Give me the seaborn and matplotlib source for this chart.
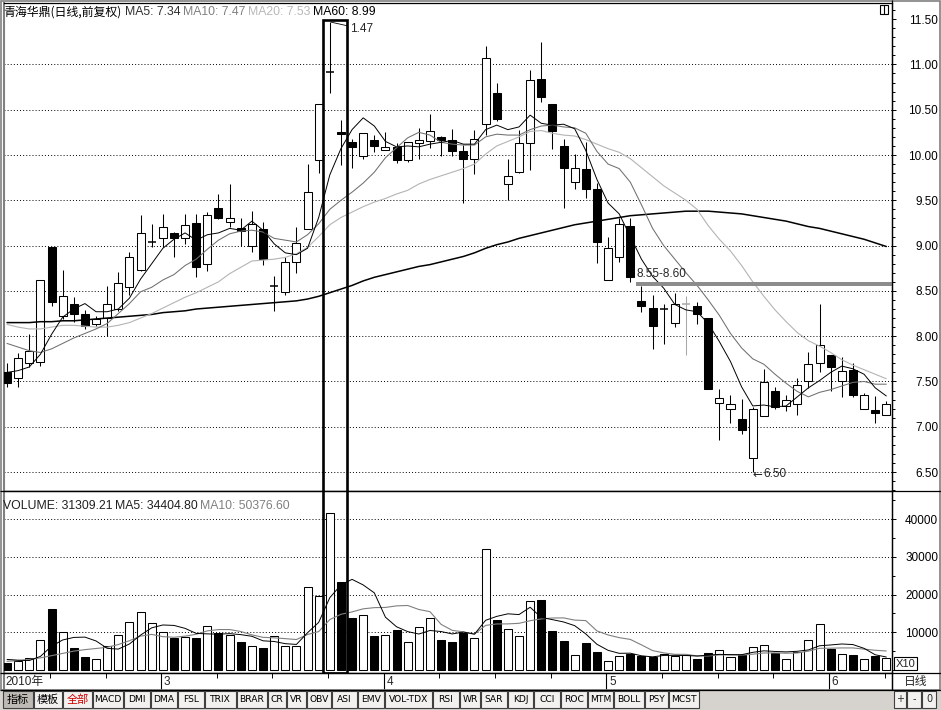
"""
plot.py
-------
Daily candlestick + volume panel (TDX style) for 青海华鼎, Feb-Jun 2010.
"""

import numpy as np
import matplotlib
matplotlib.use("Agg")
import matplotlib.pyplot as plt
from matplotlib.patches import Rectangle
from matplotlib.ticker import MultipleLocator, FormatStrFormatter
import seaborn as sns

# ── Price data (80 sessions) ─────────────────────────────────────────────────
OPEN = [7.60, 7.54, 7.70, 7.71, 8.99, 8.22, 8.36, 8.25, 8.13, 8.20,
        8.30, 8.54, 8.73, 9.04, 9.08, 9.14, 9.08, 9.25, 8.80, 9.41,
        9.26, 9.19, 9.00, 9.18, 8.55, 8.49, 8.82, 9.18, 9.95, 10.92,
        10.25, 10.14, 9.99, 10.17, 10.06, 10.09, 9.95, 10.13, 10.15, 10.20,
        10.17, 10.04, 9.96, 10.34, 10.68, 9.68, 9.81, 10.13, 10.84, 10.56,
        10.10, 9.70, 9.85, 9.63, 8.62, 8.87, 9.22, 8.39, 8.31, 8.30,
        8.15, 8.36, 8.33, 8.20, 7.26, 7.20, 7.09, 6.66, 7.12, 7.40,
        7.23, 7.25, 7.50, 7.70, 7.79, 7.50, 7.63, 7.20, 7.18, 7.13]
HIGH = [7.70, 7.81, 8.02, 8.62, 8.99, 8.73, 8.43, 8.29, 8.22, 8.55,
        8.71, 8.93, 9.34, 9.24, 9.35, 9.15, 9.35, 9.35, 9.37, 9.57,
        9.68, 9.30, 9.38, 9.26, 8.66, 8.87, 9.20, 9.90, 10.56, 11.47,
        10.39, 10.18, 10.24, 10.22, 10.25, 10.13, 10.14, 10.30, 10.45, 10.21,
        10.29, 10.11, 10.28, 11.20, 10.80, 9.96, 10.28, 10.94, 11.25, 10.56,
        10.18, 10.01, 10.14, 9.69, 9.09, 9.30, 9.30, 8.55, 8.45, 8.36,
        8.48, 8.44, 8.38, 8.20, 7.42, 7.35, 7.31, 7.22, 7.64, 7.44,
        7.35, 7.54, 7.83, 8.35, 7.79, 7.77, 7.70, 7.37, 7.34, 7.28]
LOW = [7.44, 7.44, 7.66, 7.67, 8.33, 8.19, 8.16, 8.08, 8.11, 8.00,
       8.28, 8.45, 8.72, 8.98, 8.99, 8.87, 9.02, 8.65, 8.72, 9.29,
       9.21, 9.00, 8.93, 8.79, 8.28, 8.46, 8.70, 9.18, 9.80, 10.68,
       9.89, 9.86, 9.96, 10.03, 10.05, 9.91, 9.92, 9.96, 10.08, 9.99,
       9.99, 9.47, 9.79, 10.22, 10.37, 9.50, 9.80, 9.83, 10.59, 10.07,
       9.42, 9.63, 9.53, 8.81, 8.62, 8.82, 8.60, 8.27, 7.86, 7.91,
       8.10, 7.79, 8.13, 7.42, 6.85, 7.04, 6.92, 6.50, 7.12, 7.20,
       7.17, 7.13, 7.43, 7.60, 7.40, 7.33, 7.33, 7.20, 7.04, 7.13]
CLOSE = [7.48, 7.76, 7.84, 8.62, 8.38, 8.44, 8.24, 8.11, 8.19, 8.35,
         8.59, 8.87, 9.14, 9.04, 9.20, 9.08, 9.23, 8.76, 9.34, 9.30,
         9.31, 9.16, 9.24, 8.85, 8.55, 8.82, 9.03, 9.59, 10.56, 10.92,
         10.23, 10.09, 10.24, 10.10, 10.09, 9.94, 10.14, 10.17, 10.26, 10.17,
         10.04, 9.96, 10.18, 11.07, 10.40, 9.77, 10.13, 10.83, 10.64, 10.26,
         9.86, 9.86, 9.62, 9.04, 8.97, 9.24, 8.65, 8.33, 8.11, 8.30,
         8.36, 8.36, 8.24, 7.42, 7.32, 7.25, 6.96, 7.20, 7.49, 7.22,
         7.30, 7.46, 7.69, 7.90, 7.66, 7.62, 7.35, 7.35, 7.15, 7.25]

# ── Moving averages as drawn on the chart ───────────────────────────────────
MA5 = [7.60, 7.62, 7.66, 7.80, 8.02, 8.21, 8.30, 8.36, 8.27, 8.27,
       8.30, 8.42, 8.63, 8.80, 8.97, 9.07, 9.14, 9.06, 9.12, 9.14,
       9.19, 9.17, 9.27, 9.17, 9.02, 8.92, 8.90, 8.97, 9.31, 9.78,
       10.07, 10.28, 10.41, 10.32, 10.15, 10.09, 10.10, 10.09, 10.12, 10.14,
       10.16, 10.12, 10.12, 10.28, 10.33, 10.28, 10.31, 10.44, 10.35, 10.33,
       10.34, 10.29, 10.05, 9.73, 9.47, 9.35, 9.10, 8.85, 8.66, 8.53,
       8.35, 8.29, 8.27, 8.14, 7.94, 7.72, 7.44, 7.23, 7.24, 7.22,
       7.23, 7.33, 7.43, 7.51, 7.60, 7.67, 7.64, 7.58, 7.43, 7.34]
MA10 = [7.92, 7.88, 7.84, 7.82, 7.86, 7.92, 7.98, 8.03, 8.08, 8.14,
        8.25, 8.36, 8.49, 8.54, 8.62, 8.68, 8.78, 8.85, 8.96, 9.06,
        9.13, 9.16, 9.17, 9.15, 9.08, 9.06, 9.04, 9.12, 9.24, 9.40,
        9.50, 9.59, 9.69, 9.81, 9.97, 10.08, 10.19, 10.25, 10.22, 10.14,
        10.12, 10.11, 10.11, 10.20, 10.23, 10.22, 10.22, 10.28, 10.32, 10.33,
        10.31, 10.30, 10.24, 10.04, 9.90, 9.85, 9.70, 9.45, 9.19, 9.00,
        8.85, 8.70, 8.56, 8.40, 8.23, 8.03, 7.87, 7.75, 7.69, 7.58,
        7.48, 7.39, 7.33, 7.38, 7.41, 7.45, 7.49, 7.50, 7.47, 7.47]
MA20 = [8.13, 8.10, 8.08, 8.08, 8.10, 8.12, 8.12, 8.11, 8.10, 8.10,
        8.12, 8.15, 8.20, 8.25, 8.31, 8.37, 8.43, 8.48, 8.54, 8.60,
        8.69, 8.76, 8.83, 8.84, 8.85, 8.87, 8.91, 8.98, 9.10, 9.23,
        9.31, 9.37, 9.43, 9.48, 9.52, 9.57, 9.61, 9.68, 9.73, 9.77,
        9.81, 9.85, 9.90, 10.01, 10.10, 10.15, 10.20, 10.26, 10.27, 10.24,
        10.22, 10.21, 10.17, 10.12, 10.07, 10.03, 9.96, 9.86, 9.76, 9.66,
        9.58, 9.50, 9.40, 9.22, 9.07, 8.94, 8.78, 8.60, 8.44, 8.29,
        8.16, 8.04, 7.95, 7.89, 7.82, 7.74, 7.68, 7.63, 7.58, 7.53]
MA60 = [8.15, 8.15, 8.15, 8.16, 8.16, 8.17, 8.17, 8.18, 8.19, 8.20,
        8.21, 8.22, 8.23, 8.24, 8.26, 8.27, 8.28, 8.30, 8.31, 8.32,
        8.33, 8.34, 8.35, 8.36, 8.37, 8.38, 8.39, 8.41, 8.44, 8.48,
        8.52, 8.56, 8.61, 8.65, 8.68, 8.71, 8.74, 8.77, 8.79, 8.82,
        8.85, 8.88, 8.92, 8.97, 9.01, 9.04, 9.08, 9.11, 9.14, 9.17,
        9.20, 9.23, 9.25, 9.27, 9.29, 9.31, 9.33, 9.34, 9.35, 9.36,
        9.37, 9.38, 9.38, 9.38, 9.37, 9.36, 9.35, 9.33, 9.31, 9.29,
        9.27, 9.24, 9.21, 9.19, 9.16, 9.13, 9.10, 9.07, 9.03, 8.99]

# ── Volume (axis units, x10 shares) ─────────────────────────────────────────
VOLUME = [1900, 2400, 3100, 7900, 16200, 10200, 5800, 3500, 2800, 6400,
          9200, 12600, 15300, 12400, 10200, 8600, 8700, 8600, 11800, 9800,
          9300, 7400, 6400, 5800, 8900, 6400, 6400, 21900, 19500, 41700,
          23300, 13800, 14500, 9000, 9400, 10600, 7400, 11300, 13700, 8000,
          7400, 9900, 8500, 32100, 13200, 10800, 8900, 18200, 18500, 10400,
          7700, 4000, 7200, 4800, 2400, 3700, 4200, 3700, 3400, 4300,
          3800, 4000, 3000, 4600, 5300, 3500, 3900, 6100, 6600, 4500,
          2900, 4700, 7900, 12100, 5600, 4200, 3900, 2900, 3600, 3131]
VOL_MA5 = [2800, 2600, 2500, 3600, 6300, 7960, 8640, 8720, 7700, 5740,
           5540, 6900, 9260, 11180, 11940, 11820, 11040, 9700, 9580, 9500,
           9640, 9380, 8940, 7740, 7560, 6980, 6780, 9880, 12620, 19180,
           22560, 24040, 22560, 20460, 14000, 11460, 10180, 9540, 10480, 10200,
           9560, 10060, 9500, 13180, 14220, 14900, 14700, 16640, 13920, 13360,
           12740, 11760, 9560, 6820, 5220, 4420, 4460, 3760, 3480, 3860,
           3880, 3840, 3700, 3940, 4140, 4080, 4060, 4680, 5080, 4920,
           4800, 4960, 5320, 6420, 6640, 6900, 6740, 5740, 4040, 3440]
VOL_MA10 = [2300, 2500, 2800, 3200, 3800, 4400, 5000, 5400, 5700, 6020,
            6750, 7770, 8990, 9440, 8840, 8680, 8970, 9480, 10380, 10720,
            10730, 10210, 9320, 8660, 8530, 8310, 8080, 9410, 10180, 13370,
            14770, 15410, 16220, 16540, 16590, 17010, 17110, 16050, 15470, 12100,
            10510, 10120, 9520, 11830, 12210, 12230, 12380, 13070, 13550, 13790,
            13820, 13230, 13100, 10370, 9290, 8580, 8110, 6660, 5150, 4540,
            4150, 4150, 3730, 3710, 4000, 3980, 3950, 4190, 4510, 4530,
            4440, 4510, 5000, 5750, 5780, 5850, 5850, 5530, 5230, 5040]

# ── Labels / annotations ────────────────────────────────────────────────────
STOCK_NAME = "青海华鼎(日线,前复权)"
VOL_HEADER = ["VOLUME: 31309.21", "MA5: 34404.80", "MA10: 50376.60"]
YEAR_LABEL = "2010年"
MONTH_STARTS = [14, 34, 54, 74]
MONTH_LABELS = ["3", "4", "5", "6"]
PERIOD_LABEL = "日线"
ZONE = (8.55, 8.60)
ZONE_START = 56.5
ZONE_LABEL = "8.55-8.60"
BOX_DAYS = (29, 30)
PEAK_LABEL = "1.47"
GRAY_DAY = 61
BUTTONS = ["指标", "模板", "全部", "MACD", "DMI", "DMA", "FSL", "TRIX", "BRAR",
           "CR", "VR", "OBV", "ASI", "EMV", "VOL-TDX", "RSI", "WR", "SAR",
           "KDJ", "CCI", "ROC", "MTM", "BOLL", "PSY", "MCST"]
ZOOM_BUTTONS = ["+", "-", "0"]

# ── Layout (pixels) ─────────────────────────────────────────────────────────
W, H = 941, 710
BTN_X = [(3, 33), (34, 62), (63, 92), (93, 123), (124, 150), (151, 177),
         (178, 204), (205, 236), (237, 267), (268, 286), (287, 306),
         (307, 331), (332, 357), (358, 384), (385, 432), (433, 459),
         (460, 480), (481, 507), (508, 533), (534, 560), (561, 587),
         (588, 613), (614, 644), (645, 668), (669, 699)]
ZOOM_X = [(894, 906), (907, 921), (922, 936)]
XLIM = (-0.27, 79.51)
PRICE_YLIM = (6.291, 11.678)
VOL_YLIM = (-800, 47480)
LATIN = ["Liberation Sans", "DejaVu Sans"]

sns.set_theme(style="white")
plt.rcParams["font.family"] = ["Liberation Sans", "Noto Sans CJK SC", "DejaVu Sans"]
plt.rcParams["axes.unicode_minus"] = False

fig = plt.figure(figsize=(W / 100, H / 100), dpi=100)
fig.patch.set_facecolor("white")


def px_axes(x0, y0, x1, y1, **kw):
    return fig.add_axes([x0 / W, 1 - y1 / H, (x1 - x0) / W, (y1 - y0) / H], **kw)


ax_p = px_axes(4, 3, 892, 491)
ax_v = px_axes(4, 491, 892, 673)
ax_d = px_axes(4, 673, 892, 690)

idx = np.arange(len(CLOSE))
o, h, l, c = (np.array(a, dtype=float) for a in (OPEN, HIGH, LOW, CLOSE))
up = c >= o
flat = np.isclose(o, c)
wick_col = np.where(idx == GRAY_DAY, "#a8a8a8", "black")
fill_col = np.where(up, "white", "black")
LW = 0.75
BW = 0.72

# ── Price panel ─────────────────────────────────────────────────────────────
for lvl in np.arange(6.5, 11.01, 0.5):
    ax_p.axhline(lvl, color="black", lw=0.7, ls=(0, (1, 2.2)), zorder=1)

ax_p.vlines(idx, l, h, colors=wick_col, lw=LW, zorder=2)
body = ~flat
ax_p.bar(idx[body], np.abs(c - o)[body], bottom=np.minimum(o, c)[body],
         width=BW, color=fill_col[body], edgecolor="black", lw=LW, zorder=3)
ax_p.hlines(c[flat], idx[flat] - BW / 2, idx[flat] + BW / 2,
            colors=wick_col[flat], lw=1.1, zorder=3)

for series, color, lw in [(MA60, "black", 1.1), (MA20, "#b4b4b4", 0.8),
                          (MA10, "#707070", 0.75), (MA5, "black", 0.7)]:
    sns.lineplot(x=idx, y=series, ax=ax_p, color=color, linewidth=lw,
                 legend=False, zorder=4)

ax_p.fill_between([ZONE_START, XLIM[1]], ZONE[0] + 0.005, ZONE[1] - 0.002,
                  color="#8c8c8c", lw=0, zorder=5)
ax_p.text(ZONE_START + 0.05, ZONE[1] + 0.02, ZONE_LABEL, fontsize=8.5,
          ha="left", va="bottom", zorder=6, family=LATIN)

lo = int(np.argmin(l))
ax_p.text(lo - 0.05, l[lo] - 0.025, "←", fontsize=8.5,
          ha="left", va="center", zorder=6, family=["DejaVu Sans"])
ax_p.text(lo + 0.95, l[lo] - 0.025, f"{l[lo]:.2f}", fontsize=8.5,
          ha="left", va="center", zorder=6, family=LATIN)

hi = int(np.argmax(h))
ax_p.annotate(PEAK_LABEL, xy=(hi, h[hi]), xytext=(hi + 1.85, h[hi] - 0.08),
              fontsize=8.5, ha="left", va="center", zorder=6, family=LATIN,
              arrowprops=dict(arrowstyle="-", lw=0.6, color="black",
                              shrinkA=0, shrinkB=1))

ax_p.set_xlim(*XLIM)
ax_p.set_ylim(*PRICE_YLIM)
ax_p.set_xticks([])
ax_p.yaxis.tick_right()
ax_p.yaxis.set_major_locator(MultipleLocator(0.5))
ax_p.yaxis.set_minor_locator(MultipleLocator(0.1))
ax_p.yaxis.set_major_formatter(FormatStrFormatter("%.2f"))
ax_p.set_ylabel("")
ax_p.set_xlabel("")

# ── Volume panel ────────────────────────────────────────────────────────────
for lvl in range(10000, 40001, 10000):
    ax_v.axhline(lvl, color="black", lw=0.7, ls=(0, (1, 2.2)), zorder=1)
ax_v.bar(idx, VOLUME, width=BW, color=fill_col, edgecolor="black",
         lw=LW, zorder=3)
sns.lineplot(x=idx, y=VOL_MA10, ax=ax_v, color="#808080", linewidth=0.8,
             legend=False, zorder=4)
sns.lineplot(x=idx, y=VOL_MA5, ax=ax_v, color="black", linewidth=0.7,
             legend=False, zorder=4)
ax_v.set_xlim(*XLIM)
ax_v.set_ylim(*VOL_YLIM)
ax_v.set_xticks([])
ax_v.yaxis.tick_right()
ax_v.set_yticks(range(10000, 40001, 10000))
ax_v.yaxis.set_minor_locator(MultipleLocator(5000))
ax_v.yaxis.set_major_formatter(FormatStrFormatter("%d"))
ax_v.set_ylabel("")
ax_v.set_xlabel("")

# highlighted box around the breakout days, spanning both panels
bx0, bx1 = BOX_DAYS[0] - 0.6, BOX_DAYS[1] + 0.55
ax_p.plot([bx0, bx0, bx1, bx1], [PRICE_YLIM[0], 11.49, 11.49, PRICE_YLIM[0]],
          color="black", lw=1.9, clip_on=False, zorder=7,
          solid_joinstyle="miter")
ax_v.plot([bx0, bx0, bx1, bx1], [VOL_YLIM[1], VOL_YLIM[0], VOL_YLIM[0], VOL_YLIM[1]],
          color="black", lw=1.9, clip_on=False, zorder=7,
          solid_joinstyle="miter")

for ax in (ax_p, ax_v):
    ax.set_facecolor("white")
    ax.tick_params(axis="y", which="both", direction="out", right=True,
                   left=False, labelright=True, labelleft=False,
                   colors="black", labelsize=8.5, pad=30.2)
    ax.tick_params(axis="y", which="major", length=3, width=0.7)
    ax.tick_params(axis="y", which="minor", length=2.2, width=0.7)
    for lbl in ax.get_yticklabels():
        lbl.set_horizontalalignment("right")
        lbl.set_family(LATIN)
    for side in ("top", "bottom", "right"):
        ax.spines[side].set_color("black")
        ax.spines[side].set_linewidth(0.9)
    ax.spines["left"].set_color("#808080")
    ax.spines["left"].set_linewidth(1.5)

# ── Date band ───────────────────────────────────────────────────────────────
ax_d.set_xlim(*XLIM)
ax_d.set_ylim(0, 1)
ax_d.set_xticks([])
ax_d.set_yticks([])
for sp in ax_d.spines.values():
    sp.set_color("black")
    sp.set_linewidth(0.9)
ax_d.spines["left"].set_color("#808080")
ax_d.spines["left"].set_linewidth(1.5)
ax_d.text(0.002, 0.45, YEAR_LABEL, transform=ax_d.transAxes, fontsize=8.5,
          ha="left", va="center")
for m, lab in zip(MONTH_STARTS, MONTH_LABELS):
    ax_d.axvline(m - 0.15, color="black", lw=0.8)
    ax_d.text(m + 0.1, 0.45, lab, fontsize=8.5, ha="left", va="center",
              family=LATIN)
minor_days = [d for d in range(4, len(CLOSE), 5) if d not in MONTH_STARTS]
ax_d.vlines([d - 0.15 for d in minor_days], 0.7, 1.0, color="black", lw=0.7)

# ── Overlay: headers, frame, toolbar ────────────────────────────────────────
ov = fig.add_axes([0, 0, 1, 1], zorder=10)
ov.set_xlim(0, W)
ov.set_ylim(H, 0)
ov.axis("off")
ov.patch.set_alpha(0)

header = [(STOCK_NAME, 3, "black"),
          (f"MA5: {MA5[-1]:.2f}", 125, "#303030"),
          (f"MA10: {MA10[-1]:.2f}", 183, "#808080"),
          (f"MA20: {MA20[-1]:.2f}", 248, "#b8b8b8"),
          (f"MA60: {MA60[-1]:.2f}", 313, "black")]
for txt, x, col in header:
    fam = ["Noto Sans CJK SC", "DejaVu Sans"] if x == 3 else LATIN
    ov.text(x, 12, txt, fontsize=8.6 if x == 3 else 8.8, color=col,
            ha="left", va="center", family=fam)
for txt, x, col in zip(VOL_HEADER, [3, 115, 200], ["#202020", "#202020", "#808080"]):
    ov.text(x, 506, txt, fontsize=8.8, color=col, ha="left", va="center",
            family=LATIN)

# separators reaching into the right label column
ov.hlines([491, 673, 690], 0, W, color="black", lw=0.9)
ov.vlines(892.5, 0, 690, color="black", lw=0.9)
ov.add_patch(Rectangle((0.8, 0.8), W - 1.6, 689, fill=False,
                       edgecolor="#808080", lw=1.2))
# small panel icon top-right
ov.add_patch(Rectangle((880, 5), 8, 9, fill=False, edgecolor="black", lw=0.8))
ov.vlines(884, 5, 14, color="black", lw=0.8)
# x10 badge
ov.add_patch(Rectangle((894, 657), 23, 13, fill=False, edgecolor="black", lw=0.8))
ov.text(905.5, 664, "X10", fontsize=8, ha="center", va="center", family=LATIN)
# period label
ov.text(916, 682, PERIOD_LABEL, fontsize=8.5, ha="center", va="center",
        family=["Noto Sans CJK SC"])

# toolbar
ov.add_patch(Rectangle((0, 690), W, 20, facecolor="#d6d3ce", edgecolor="none"))
for (x0, x1), name in zip(BTN_X, BUTTONS):
    face = "#bdbab5" if name == "指标" else "#f2f1ef"
    ov.add_patch(Rectangle((x0, 691), x1 - x0, 17, facecolor=face,
                           edgecolor="#404040", lw=0.8))
    cjk = not name.isascii()
    ov.text((x0 + x1) / 2, 699.5, name, fontsize=8 if cjk else 6.6,
            color="#d00000" if name == "全部" else "black",
            ha="center", va="center",
            family=["Noto Sans CJK SC"] if cjk else ["DejaVu Sans"])
for (x0, x1), name in zip(ZOOM_X, ZOOM_BUTTONS):
    ov.add_patch(Rectangle((x0, 691), x1 - x0, 17, facecolor="#f2f1ef",
                           edgecolor="#404040", lw=0.8))
    ov.text((x0 + x1) / 2, 699.5, name, fontsize=7, ha="center", va="center",
            family=["DejaVu Sans"])

fig.savefig("out.png", dpi=100)
